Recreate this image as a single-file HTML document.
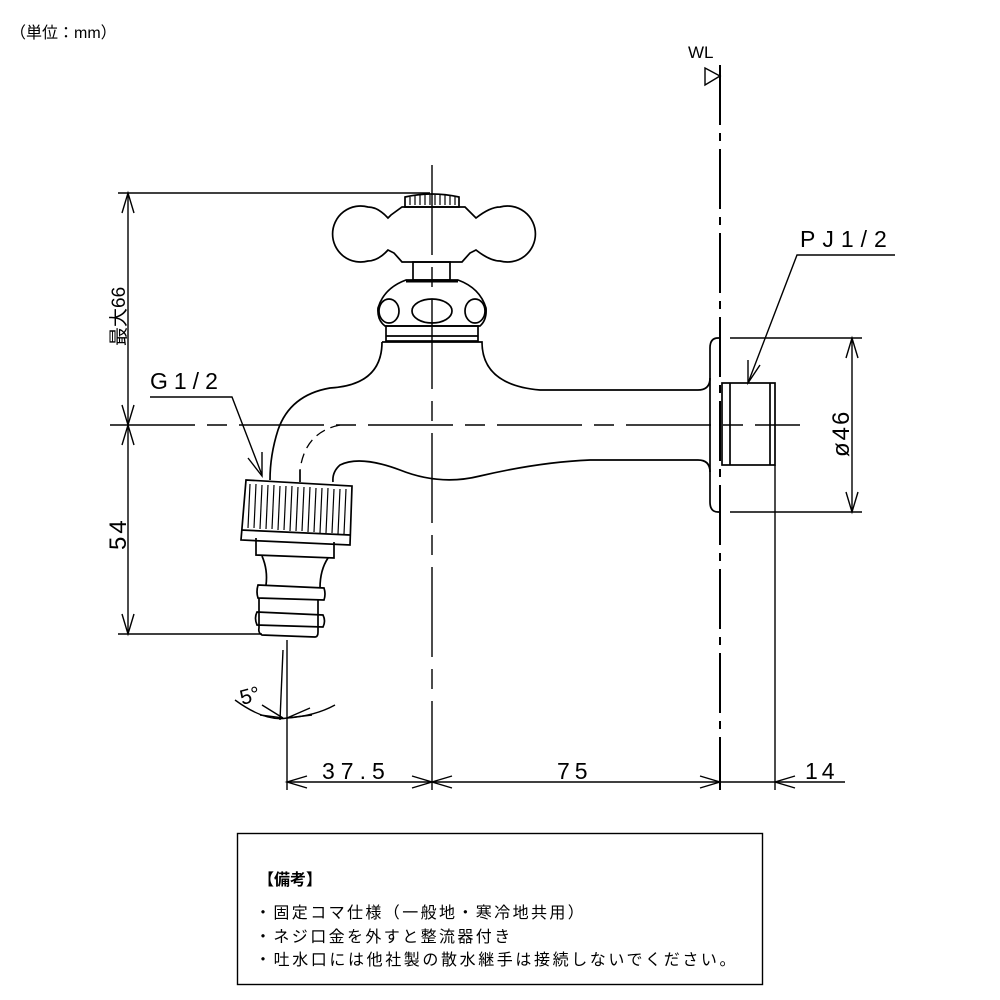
<!DOCTYPE html>
<html><head><meta charset="utf-8"><style>
html,body{margin:0;padding:0;background:#fff;}
svg{display:block;}
text{stroke:none;fill:#000;font-weight:normal;}
</style></head><body>
<svg width="1000" height="1000" viewBox="0 0 1000 1000" xmlns="http://www.w3.org/2000/svg">
<g fill="none" stroke="#000" stroke-width="1.4">
<line x1="110" y1="425" x2="800" y2="425" stroke-dasharray="85,12,20,12"/>
<line x1="432" y1="165" x2="432" y2="790" stroke-dasharray="90,12,20,12"/>
<line x1="720" y1="65" x2="720" y2="790" stroke-width="2" stroke-dasharray="60,8,8,8"/>
<polygon points="705,68 720,76 705,85"/>
<line x1="118" y1="193" x2="430" y2="193"/>
<line x1="128" y1="193" x2="128" y2="425"/>
<polyline points="122,213 128,193 134,213"/>
<polyline points="122,405 128,425 134,405"/>
<line x1="128" y1="425" x2="128" y2="634"/>
<polyline points="122,445 128,425 134,445"/>
<polyline points="122,614 128,634 134,614"/>
<line x1="118" y1="634" x2="262" y2="634"/>
<polyline points="150,397 232,397 262,475"/>
<polyline points="248,458 262,476 262,452"/>
<g stroke-width="1.7">
<path d="M405,207 L405,197 Q432,191 459,197 L459,207 Z"/>
<path d="M402,207 L465,207 L473,215 L476,218 Q490,207 500,207 A28,28 0 1 1 500,261 Q490,261 476,250 L470,253 L462,262 L402,262 L394,253 L388,250 Q378,261 368,261 A28,28 0 1 1 368,207 Q378,207 388,218 L391,215 Z"/>
<rect x="413" y="262" width="37" height="18"/>
<path d="M406,280 L458,280 Q480,288 486,308 Q487,320 480,326 L385,326 Q377,320 378,308 Q384,288 406,280 Z"/>
<line x1="406" y1="281" x2="458" y2="281" stroke-width="3"/>
<ellipse cx="389" cy="311" rx="10" ry="12"/>
<ellipse cx="432" cy="311" rx="20" ry="12"/>
<ellipse cx="475" cy="311" rx="10" ry="12"/>
<rect x="386" y="326" width="92" height="15"/>
<line x1="386" y1="336" x2="478" y2="336"/>
<path d="M382,342 L482,342 Q482,385 540,390 L698,390 Q710,390 710,378"/>
<path d="M382,342 Q382,385 330,388 Q290,395 278,430 Q270,455 270,480"/>
<path d="M710,472 Q710,460 698,460 L590,460 Q540,462 480,476 Q440,486 400,470 Q360,455 340,465 Q332,472 333,482"/>
<path d="M340,425 Q305,432 300,470" stroke-dasharray="10,6" stroke-width="1.3"/>
<line x1="300" y1="470" x2="300" y2="482"/>
<path d="M720,338 L718,338 Q710,338 710,348 L710,502 Q710,512 718,512 L720,512"/>
<rect x="722" y="383" width="53" height="82"/>
<line x1="730" y1="383" x2="730" y2="465"/>
<line x1="770" y1="383" x2="770" y2="465"/>
<path d="M246,480 L352,486 L350,545 L241,540 Z"/>
<line x1="241" y1="530" x2="350" y2="535"/>
</g>
<g stroke-width="1.2">
<line x1="250" y1="484" x2="248" y2="528"/><line x1="256" y1="484" x2="254" y2="528"/><line x1="262" y1="485" x2="260" y2="529"/><line x1="268" y1="485" x2="266" y2="529"/><line x1="274" y1="485" x2="272" y2="529"/><line x1="280" y1="486" x2="278" y2="530"/><line x1="286" y1="486" x2="284" y2="530"/><line x1="292" y1="486" x2="290" y2="531"/><line x1="298" y1="487" x2="296" y2="531"/><line x1="304" y1="487" x2="302" y2="531"/><line x1="310" y1="487" x2="308" y2="532"/><line x1="316" y1="488" x2="314" y2="532"/><line x1="322" y1="488" x2="320" y2="533"/><line x1="328" y1="488" x2="326" y2="533"/><line x1="334" y1="489" x2="332" y2="533"/><line x1="340" y1="489" x2="338" y2="534"/><line x1="346" y1="489" x2="344" y2="534"/>
<line x1="410" y1="197" x2="410" y2="205"/><line x1="415" y1="196" x2="415" y2="205"/><line x1="420" y1="195" x2="420" y2="205"/><line x1="425" y1="195" x2="425" y2="205"/><line x1="430" y1="195" x2="430" y2="205"/><line x1="435" y1="195" x2="435" y2="205"/><line x1="440" y1="195" x2="440" y2="205"/><line x1="445" y1="195" x2="445" y2="205"/><line x1="450" y1="196" x2="450" y2="205"/><line x1="455" y1="197" x2="455" y2="205"/>
</g>
<g stroke-width="1.7">
<path d="M256,538 L256,555 L334,558 L334,542"/>
<path d="M262,556 Q268,570 266,585 M328,558 Q320,570 320,588"/>
<path d="M258,585 L324,588 Q326,594 324,600 L258,598 Q256,592 258,585 Z"/>
<path d="M257,612 L323,615 Q326,621 323,627 L257,625 Q254,618 257,612 Z"/>
<path d="M259,598 L259,628 Q258,633 262,635 L315,637 Q318,637 318,632 L318,600"/>
</g>
<line x1="287" y1="640" x2="287" y2="790"/>
<line x1="283" y1="650" x2="280" y2="720"/>
<path d="M235,700 Q265,722 287,718 Q315,716 335,705"/>
<polyline points="262,705 283,718 260,715"/>
<polyline points="310,708 287,718 312,715"/>
<line x1="287" y1="782" x2="845" y2="782"/>
<line x1="775" y1="465" x2="775" y2="790"/>
<polyline points="307,776 287,782 307,788"/>
<polyline points="412,776 432,782 412,788"/>
<polyline points="452,776 432,782 452,788"/>
<polyline points="700,776 720,782 700,788"/>
<polyline points="795,776 775,782 795,788"/>
<line x1="730" y1="338" x2="862" y2="338"/>
<line x1="852" y1="338" x2="852" y2="512"/>
<line x1="730" y1="512" x2="862" y2="512"/>
<polyline points="846,358 852,338 858,358"/>
<polyline points="846,492 852,512 858,492"/>
<polyline points="895,255 797,255 748,383"/>
<polyline points="748,360 748,383 760,365"/>
<rect x="237.5" y="833.5" width="525" height="151"/>
</g>
<g style="font-family:'Liberation Sans','Noto Sans CJK JP',sans-serif;font-weight:normal">
<text x="10" y="38" style="font-size:16px">（単位：mm）</text>
<text x="688" y="58" style="font-size:17px">WL</text>
<text x="800" y="247" style="font-size:23px;letter-spacing:7px">PJ1/2</text>
<text x="150" y="389" style="font-size:23px;letter-spacing:6px">G1/2</text>
<text transform="translate(125,346) rotate(-90)" style="font-size:19px">最大66</text>
<text transform="translate(126,550) rotate(-90)" style="font-size:24px;letter-spacing:3px">54</text>
<text transform="translate(849,457) rotate(-90)" style="font-size:24px;letter-spacing:2px">ø46</text>
<text transform="translate(242,705) rotate(-15)" style="font-size:21px">5°</text>
<text x="322" y="779" style="font-size:23px;letter-spacing:6px">37.5</text>
<text x="557" y="779" style="font-size:23px;letter-spacing:5px">75</text>
<text x="805" y="779" style="font-size:23px;letter-spacing:4px">14</text>
<text x="258" y="885" style="font-size:16px;font-weight:bold">【備考】</text>
<text x="255" y="918" style="font-size:16px;letter-spacing:2.4px">・固定コマ仕様（一般地・寒冷地共用）</text>
<text x="255" y="942" style="font-size:16px;letter-spacing:2.4px">・ネジ口金を外すと整流器付き</text>
<text x="255" y="965" style="font-size:16px;letter-spacing:2.6px">・吐水口には他社製の散水継手は接続しないでください。</text>
</g>
</svg>
</body></html>
